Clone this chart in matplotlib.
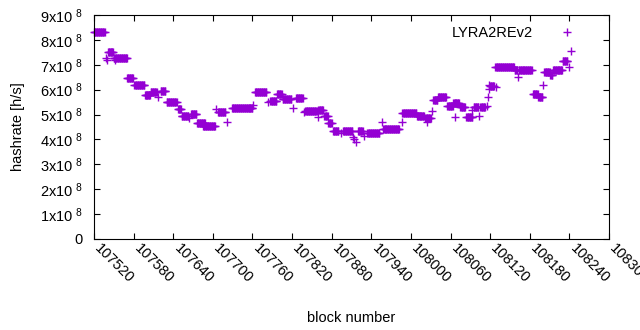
import numpy as np
import matplotlib
matplotlib.use("Agg")
import matplotlib.pyplot as plt
from matplotlib.transforms import ScaledTranslation

plt.rcParams["font.family"] = ["Liberation Sans", "DejaVu Sans"]
plt.rcParams["mathtext.fontset"] = "custom"
plt.rcParams["mathtext.rm"] = "Liberation Sans"
plt.rcParams["mathtext.default"] = "regular"

# runs of (first block, last block, hashrate in 1e8 h/s)
run_start = [107520, 107538, 107539, 107541, 107550, 107552, 107570, 107581, 107597, 107606,
             107617, 107621, 107630, 107647, 107653, 107664, 107667, 107676, 107685, 107705,
             107708, 107721, 107729, 107761, 107764, 107784, 107787, 107797, 107806, 107821,
             107826, 107838, 107840, 107859, 107860, 107869, 107875, 107882, 107894, 107897,
             107912, 107914, 107917, 107920, 107929, 107934, 107956, 107958, 107986, 107987,
             108009, 108022, 108024, 108032, 108034, 108041, 108055, 108064, 108067, 108075,
             108084, 108092, 108095, 108103, 108105, 108115, 108117, 108118, 108119, 108120,
             108128, 108129, 108157, 108162, 108163, 108185, 108193, 108200, 108202, 108211,
             108215, 108230, 108240, 108243]
run_end = [107536, 107538, 107539, 107549, 107570, 107552, 107579, 107596, 107605, 107615,
           107617, 107628, 107645, 107652, 107663, 107664, 107675, 107688, 107703, 107705,
           107719, 107721, 107760, 107761, 107781, 107784, 107796, 107804, 107819, 107821,
           107836, 107838, 107857, 107859, 107867, 107874, 107880, 107890, 107894, 107911,
           107912, 107914, 107917, 107927, 107929, 107952, 107956, 107982, 107986, 108008,
           108020, 108030, 108024, 108032, 108040, 108053, 108063, 108073, 108067, 108082,
           108093, 108092, 108102, 108103, 108112, 108115, 108117, 108118, 108119, 108126,
           108156, 108129, 108161, 108162, 108183, 108192, 108199, 108200, 108210, 108214,
           108229, 108237, 108240, 108243]
run_rate = [8.30, 7.28, 7.19, 7.50, 7.28, 7.19, 6.45, 6.17, 5.77, 5.92,
            5.69, 5.93, 5.49, 5.22, 4.95, 4.86, 5.01, 4.65, 4.55, 5.22,
            5.09, 4.70, 5.25, 5.39, 5.89, 5.49, 5.53, 5.81, 5.61, 5.27,
            5.65, 5.11, 5.14, 4.89, 5.17, 4.93, 4.65, 4.33, 4.24, 4.35,
            4.10, 4.02, 3.90, 4.33, 4.14, 4.24, 4.71, 4.41, 4.69, 5.05,
            4.95, 4.85, 4.71, 5.15, 5.58, 5.71, 5.33, 5.45, 4.91, 5.29,
            4.91, 5.18, 5.30, 4.94, 5.29, 5.35, 5.71, 6.02, 6.18, 6.14,
            6.90, 6.10, 6.78, 6.52, 6.78, 5.82, 5.69, 6.18, 6.69, 6.59,
            6.78, 7.16, 6.90, 7.55]

blocks = np.concatenate([np.arange(s, e + 1) for s, e in zip(run_start, run_end)])
rates = np.concatenate([np.full(e - s + 1, r * 1e8) for s, e, r in zip(run_start, run_end, run_rate)])

x_ticks = list(range(107520, 108301, 60))
y_ticks = [i * 1e8 for i in range(10)]
y_labels = ["0"] + [f"{i}x10$^{{\\ 8}}$" for i in range(1, 10)]

fig = plt.figure(figsize=(6.4, 3.3), dpi=100)
ax = fig.add_axes([94 / 640, 1 - 239 / 330, 515 / 640, 224 / 330])

ax.plot(blocks, rates, "+", color="#9400D3", markersize=5.2, markeredgewidth=1.0,
        clip_on=False, label="LYRA2REv2")

ax.set_xlim(107520, 108300)
ax.set_ylim(0, 9e8)
ax.set_xticks(x_ticks)
ax.set_xticklabels([str(t) for t in x_ticks], rotation=-45, ha="left", va="center",
                   rotation_mode="anchor")
ax.set_yticks(y_ticks)
ax.set_yticklabels(y_labels)
ax.tick_params(direction="in", top=True, right=True, length=4, width=0.8,
               labelsize=10.5, colors="black")
ax.tick_params(axis="x", pad=5)
ax.tick_params(axis="y", pad=8)
shift = ScaledTranslation(3 / 100, 0, fig.dpi_scale_trans)
for lbl in ax.get_xticklabels():
    lbl.set_transform(lbl.get_transform() + shift)
for sp in ax.spines.values():
    sp.set_linewidth(0.8)

ax.set_xlabel("block number", fontsize=10.5, labelpad=18)
ax.set_ylabel("hashrate [h/s]", fontsize=10.5, labelpad=11)

ax.legend(loc="upper right", markerfirst=False, frameon=False, numpoints=1,
          handlelength=3.5, handletextpad=0.6, fontsize=10.5,
          bbox_to_anchor=(0.994, 1.011))

fig.savefig("out.png", dpi=100)
